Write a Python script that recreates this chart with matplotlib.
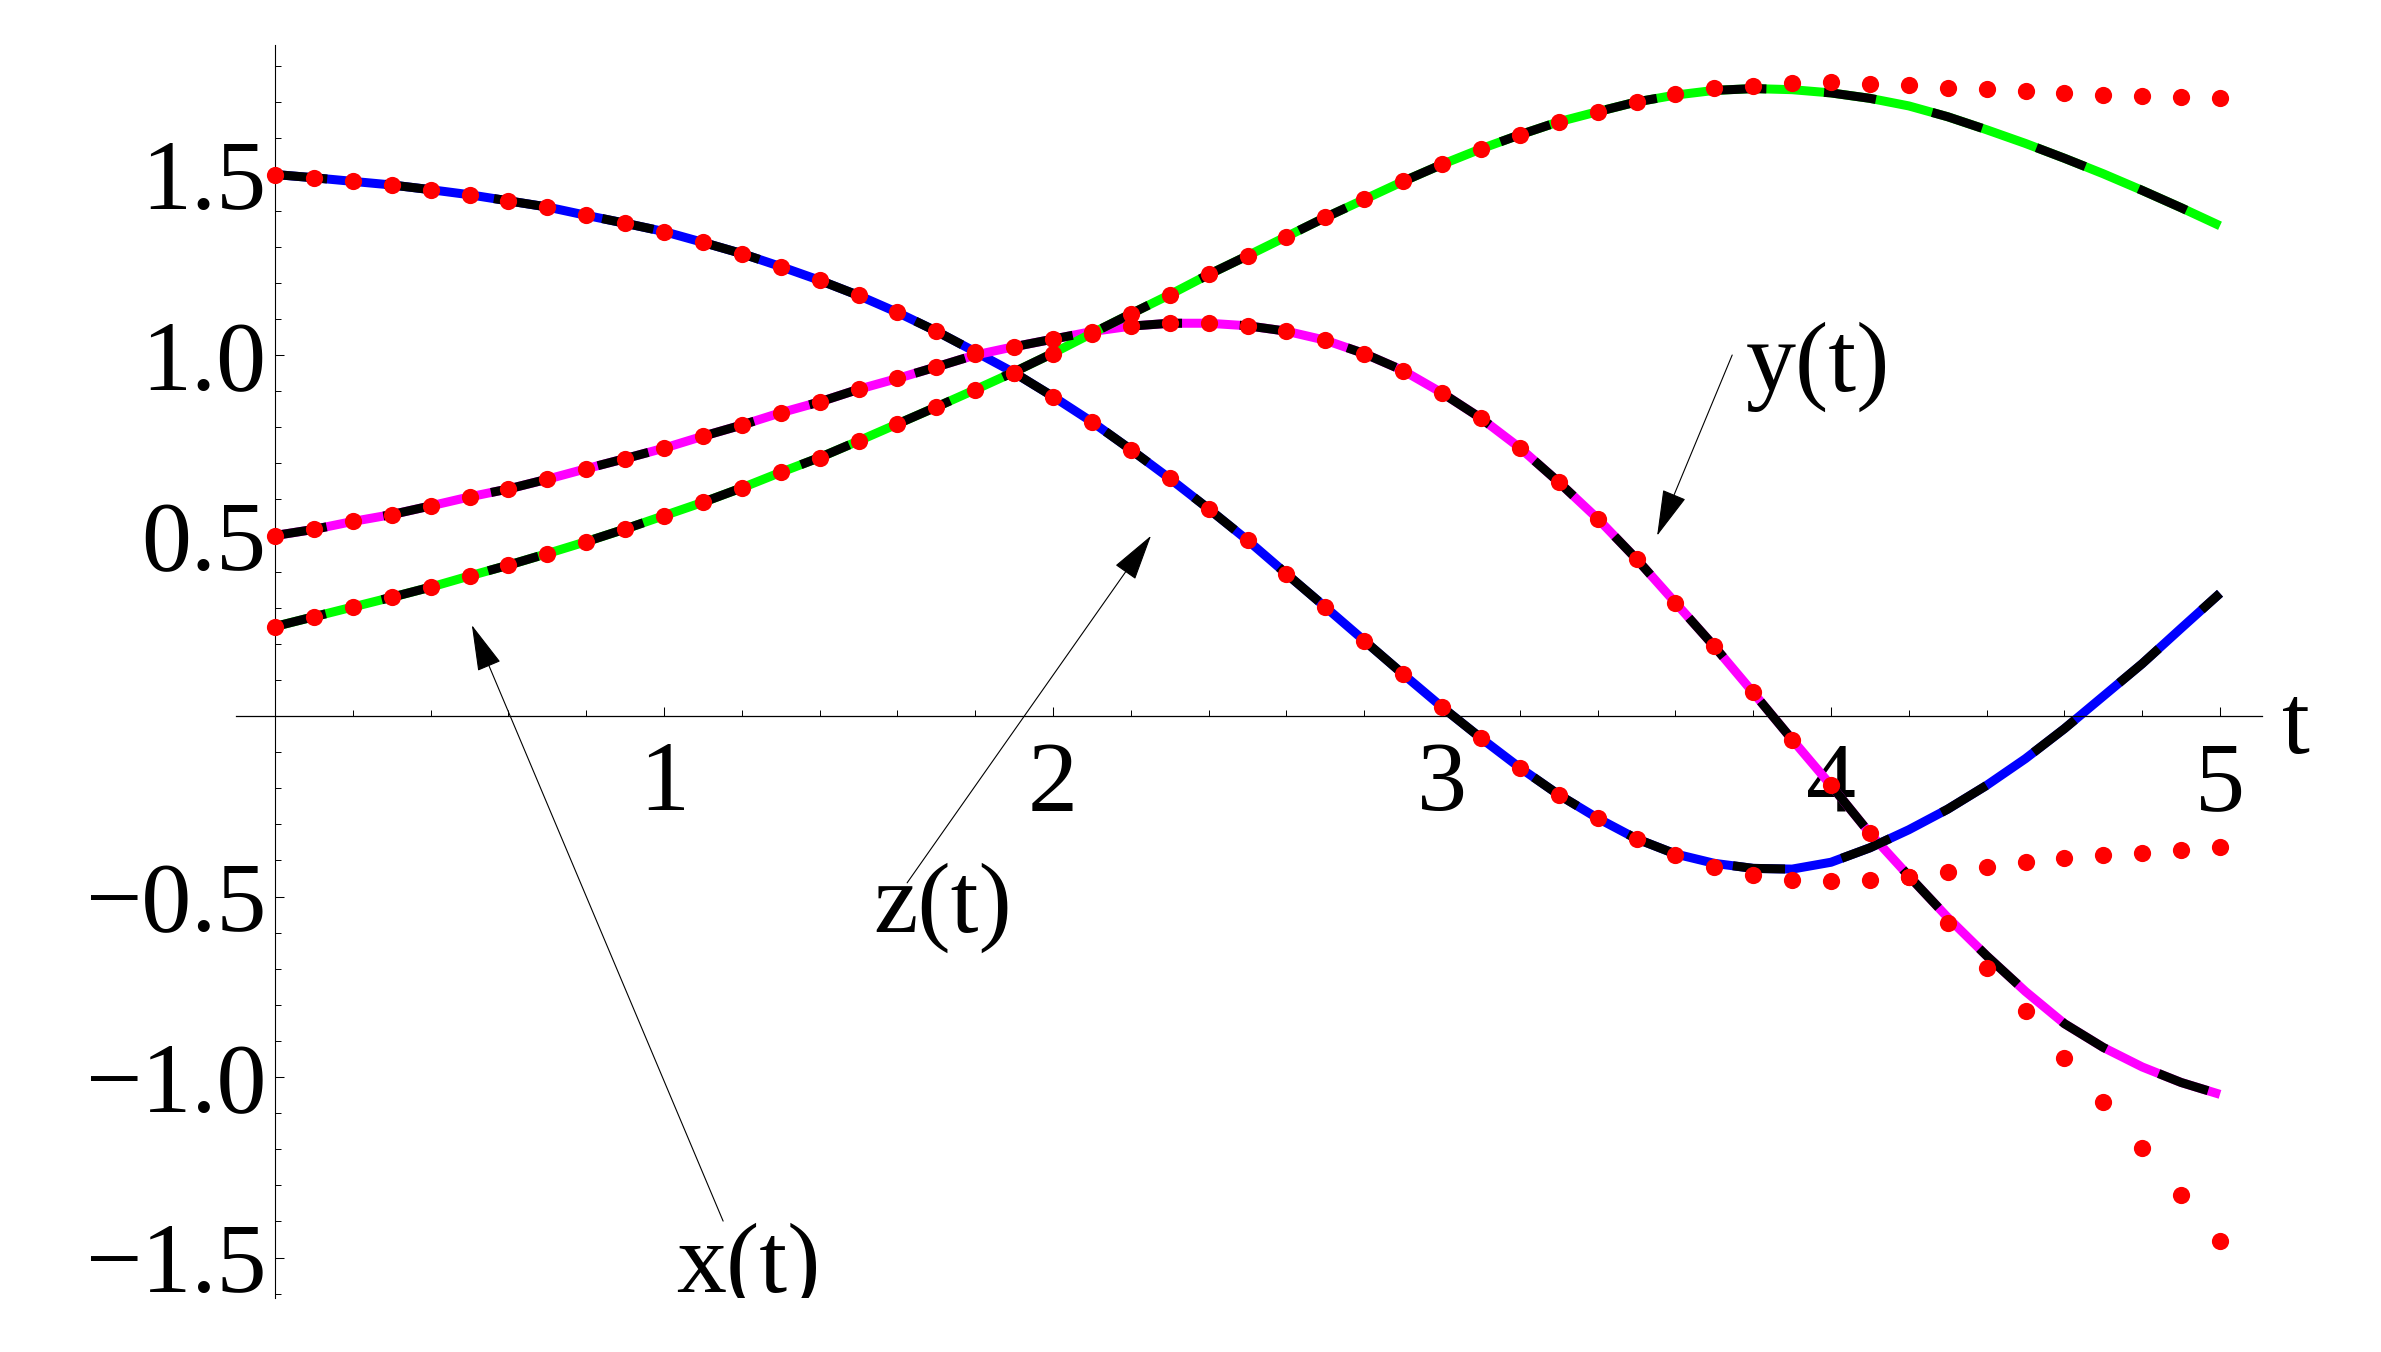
import numpy as np
import matplotlib
matplotlib.use("Agg")
import matplotlib.pyplot as plt
from matplotlib.ticker import FixedLocator

plt.rcParams['font.family'] = ['Liberation Serif', 'DejaVu Serif']

# ---- data ----
t = [0.0, 0.1, 0.2, 0.3, 0.4, 0.5, 0.6, 0.7, 0.8, 0.9,
     1.0, 1.1, 1.2, 1.3, 1.4, 1.5, 1.6, 1.7, 1.8, 1.9,
     2.0, 2.1, 2.2, 2.3, 2.4, 2.5, 2.6, 2.7, 2.8, 2.9,
     3.0, 3.1, 3.2, 3.3, 3.4, 3.5, 3.6, 3.7, 3.8, 3.9,
     4.0, 4.1, 4.2, 4.3, 4.4, 4.5, 4.6, 4.7, 4.8, 4.9, 5.0]

# exact solutions (solid coloured curves)
x_exact = [1.500, 1.491, 1.481, 1.471, 1.458, 1.444, 1.427, 1.410, 1.387, 1.365,
           1.342, 1.312, 1.281, 1.245, 1.207, 1.165, 1.118, 1.066, 1.009, 0.951,
           0.885, 0.815, 0.738, 0.658, 0.574, 0.487, 0.394, 0.302, 0.209, 0.116,
           0.025, -0.061, -0.143, -0.218, -0.283, -0.340, -0.382, -0.408, -0.422, -0.424,
           -0.405, -0.365, -0.315, -0.258, -0.192, -0.118, -0.035, 0.055, 0.145, 0.243, 0.340]
y_exact = [0.500, 0.517, 0.539, 0.558, 0.582, 0.607, 0.629, 0.656, 0.685, 0.713,
           0.742, 0.775, 0.806, 0.840, 0.870, 0.905, 0.935, 0.967, 1.000, 1.023,
           1.044, 1.065, 1.080, 1.088, 1.088, 1.081, 1.066, 1.041, 1.004, 0.957,
           0.895, 0.825, 0.743, 0.648, 0.547, 0.435, 0.314, 0.193, 0.065, -0.065,
           -0.192, -0.325, -0.443, -0.558, -0.664, -0.763, -0.852, -0.918, -0.972, -1.015, -1.048]
z_exact = [0.248, 0.275, 0.302, 0.329, 0.357, 0.388, 0.418, 0.450, 0.483, 0.518,
           0.555, 0.592, 0.632, 0.675, 0.716, 0.762, 0.809, 0.856, 0.904, 0.953,
           1.005, 1.060, 1.114, 1.167, 1.223, 1.275, 1.328, 1.381, 1.431, 1.481,
           1.528, 1.571, 1.610, 1.646, 1.674, 1.701, 1.720, 1.733, 1.738, 1.735,
           1.726, 1.711, 1.690, 1.660, 1.624, 1.586, 1.545, 1.502, 1.456, 1.408, 1.358]

# approximate solutions (red dots)
x_approx = [1.500, 1.491, 1.481, 1.471, 1.458, 1.444, 1.427, 1.410, 1.387, 1.365,
            1.342, 1.312, 1.281, 1.245, 1.207, 1.165, 1.118, 1.066, 1.009, 0.951,
            0.885, 0.815, 0.738, 0.658, 0.574, 0.487, 0.394, 0.302, 0.209, 0.116,
            0.025, -0.061, -0.143, -0.218, -0.283, -0.340, -0.384, -0.417, -0.441, -0.453,
            -0.457, -0.453, -0.445, -0.431, -0.419, -0.405, -0.393, -0.384, -0.378, -0.370, -0.364]
y_approx = [0.500, 0.517, 0.539, 0.558, 0.582, 0.607, 0.629, 0.656, 0.685, 0.713,
            0.742, 0.775, 0.806, 0.840, 0.870, 0.905, 0.935, 0.967, 1.003, 1.021,
            1.044, 1.065, 1.081, 1.088, 1.088, 1.081, 1.066, 1.041, 1.004, 0.957,
            0.895, 0.825, 0.743, 0.648, 0.547, 0.435, 0.314, 0.193, 0.067, -0.065,
            -0.192, -0.323, -0.446, -0.574, -0.698, -0.816, -0.946, -1.070, -1.196, -1.326, -1.454]
z_approx = [0.248, 0.275, 0.302, 0.329, 0.357, 0.388, 0.418, 0.450, 0.483, 0.518,
            0.555, 0.592, 0.632, 0.675, 0.716, 0.762, 0.809, 0.856, 0.904, 0.951,
            1.003, 1.058, 1.114, 1.167, 1.225, 1.275, 1.328, 1.381, 1.431, 1.481,
            1.528, 1.571, 1.610, 1.646, 1.674, 1.701, 1.723, 1.739, 1.746, 1.753,
            1.756, 1.752, 1.748, 1.741, 1.736, 1.730, 1.725, 1.721, 1.717, 1.715, 1.712]

xticks = [1, 2, 3, 4, 5]
xtick_labels = ['1', '2', '3', '4', '5']
yticks = [-1.5, -1.0, -0.5, 0.5, 1.0, 1.5]
ytick_labels = ['\u22121.5', '\u22121.0', '\u22120.5', '0.5', '1.0', '1.5']
xminor = [0.2, 0.4, 0.6, 0.8, 1.2, 1.4, 1.6, 1.8, 2.2, 2.4, 2.6, 2.8,
          3.2, 3.4, 3.6, 3.8, 4.2, 4.4, 4.6, 4.8]
yminor = [-1.6, -1.4, -1.3, -1.2, -1.1, -0.9, -0.8, -0.7, -0.6, -0.4, -0.3, -0.2, -0.1,
          0.1, 0.2, 0.3, 0.4, 0.6, 0.7, 0.8, 0.9, 1.1, 1.2, 1.3, 1.4, 1.6, 1.7, 1.8]

# labels: (text, label position, arrow tail, arrow tip)
labels = [
    ('x(t)', (1.216, -1.596), (1.152, -1.399), (0.506, 0.252)),
    ('z(t)', (1.717, -0.598), (1.625, -0.462), (2.252, 0.4995)),
    ('y(t)', (3.967, 0.901), (3.746, 1.000), (3.553, 0.4995)),
]

# ---- figure ----
W, H = 2381, 1352
fig = plt.figure(figsize=(W / 100, H / 100), dpi=100)
ax = fig.add_axes([0, 54 / H, 1, 1298 / H])
ax.set_xlim(-275 / 389, (W - 275) / 389)
ax.set_ylim(-1.612, 716 / 361)

lw = 6.5
dash = (0, (5.8, 6.4))
for ys, col in [(x_exact, '#0000ff'), (y_exact, '#ff00ff'), (z_exact, '#00ff00')]:
    ax.plot(t, ys, color=col, lw=lw, solid_capstyle='butt', zorder=2)
    ax.plot(t, ys, color='black', lw=lw, linestyle=dash, dash_capstyle='butt', zorder=3)
for ys in [x_approx, y_approx, z_approx]:
    ax.plot(t, ys, linestyle='none', marker='o', ms=12.4, color='#ff0000',
            markeredgewidth=0, zorder=4, clip_on=False)

# axes through the origin
for s in ['top', 'right']:
    ax.spines[s].set_visible(False)
ax.spines['left'].set_position(('data', 0))
ax.spines['bottom'].set_position(('data', 0))
ax.spines['left'].set_bounds(-1.612, 1.86)
ax.spines['bottom'].set_bounds(-0.10, 5.108)
ax.spines['left'].set_linewidth(0.8)
ax.spines['bottom'].set_linewidth(0.9)

ax.set_xticks(xticks)
ax.set_xticklabels(xtick_labels)
ax.set_yticks(yticks)
ax.set_yticklabels(ytick_labels)
ax.xaxis.set_minor_locator(FixedLocator(xminor))
ax.yaxis.set_minor_locator(FixedLocator(yminor))
ax.tick_params(which='major', direction='in', length=6.5, width=0.75, labelsize=72)
ax.tick_params(which='minor', direction='in', length=4.3, width=0.7)
ax.tick_params(axis='x', which='major', pad=18)
ax.tick_params(axis='y', which='major', pad=6)

ax.text(5.195, -0.102, 't', fontsize=72, ha='center', va='baseline')

for txt, pos, tail, tip in labels:
    ax.annotate('', xy=tip, xytext=tail,
                arrowprops=dict(arrowstyle='-|>,head_length=0.75,head_width=0.2',
                                mutation_scale=40, lw=0.8, color='black',
                                shrinkA=0, shrinkB=0), zorder=5)
    ax.text(pos[0], pos[1], txt, fontsize=72, ha='center', va='baseline',
            clip_on=True, zorder=5)

fig.savefig('out.png', dpi=100)
